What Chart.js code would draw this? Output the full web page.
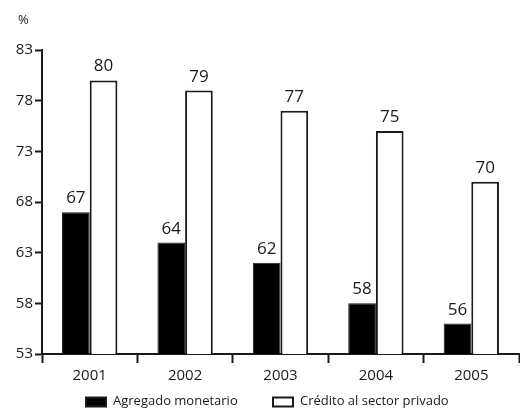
<!DOCTYPE html>
<html>
<head>
<meta charset="utf-8">
<script src="https://cdn.jsdelivr.net/npm/chart.js@4/dist/chart.umd.min.js"></script>
<style>
  html, body { margin: 0; padding: 0; background: #fff; }
  #wrap { width: 520px; height: 410px; position: relative; }
</style>
</head>
<body>
<div id="wrap"><canvas id="c" width="520" height="410"></canvas></div>
<script>
// Years on the category axis
const years = ['2001', '2002', '2003', '2004', '2005'];
// Series values (%)
const agregadoMonetario = [67, 64, 62, 58, 56];
const creditoPrivado = [80, 79, 77, 75, 70];
// Series names
const seriesNames = ['Agregado monetario', 'Crédito al sector privado'];
// Y axis range and step
const yMin = 53, yMax = 83, yStep = 5;
const unitLabel = '%';

const FONT = '"Open Sans", "DejaVu Sans", sans-serif';
const INK = '#1a1a1a';

// Numbers written above each bar
const valueLabels = {
  id: 'valueLabels',
  afterDatasetsDraw(chart) {
    const ctx = chart.ctx;
    ctx.save();
    ctx.font = '17px ' + FONT;
    ctx.fillStyle = INK;
    ctx.textAlign = 'center';
    ctx.textBaseline = 'alphabetic';
    chart.data.datasets.forEach((ds, di) => {
      chart.getDatasetMeta(di).data.forEach((bar, i) => {
        ctx.fillText(String(ds.data[i]), bar.x, bar.y - 9);
      });
    });
    ctx.restore();
  }
};

// Unit mark and legend along the bottom
const extras = {
  id: 'extras',
  afterDraw(chart) {
    const ctx = chart.ctx;
    ctx.save();
    ctx.fillStyle = INK;
    ctx.font = '13px ' + FONT;
    ctx.textAlign = 'left';
    ctx.textBaseline = 'middle';
    ctx.fillText(unitLabel, 18, 20);

    const y = 401;
    const items = [
      { x: 86, fill: '#000', text: chart.data.datasets[0].label },
      { x: 273, fill: '#fff', text: chart.data.datasets[1].label }
    ];
    items.forEach(it => {
      ctx.fillStyle = it.fill;
      ctx.fillRect(it.x, y - 3.5, 20, 9);
      ctx.strokeStyle = INK;
      ctx.lineWidth = 2;
      ctx.strokeRect(it.x, y - 3.5, 20, 9);
      ctx.fillStyle = INK;
      ctx.fillText(it.text, it.x + 27, y);
    });
    ctx.restore();
  }
};

new Chart(document.getElementById('c'), {
  type: 'bar',
  data: {
    labels: years,
    datasets: [
      {
        label: seriesNames[0],
        data: agregadoMonetario,
        backgroundColor: '#000',
        borderColor: INK,
        borderWidth: 1,
        categoryPercentage: 0.58,
        barPercentage: 1.0
      },
      {
        label: seriesNames[1],
        data: creditoPrivado,
        backgroundColor: '#fff',
        borderColor: INK,
        borderWidth: 2,
        borderSkipped: 'bottom',
        categoryPercentage: 0.58,
        barPercentage: 1.0
      }
    ]
  },
  options: {
    responsive: false,
    animation: false,
    devicePixelRatio: 1,
    layout: { padding: { top: 50, right: 1, bottom: 20, left: 0 } },
    plugins: {
      legend: { display: false },
      tooltip: { enabled: false }
    },
    scales: {
      x: {
        grid: {
          display: true,
          drawOnChartArea: false,
          drawTicks: true,
          tickLength: 9,
          tickWidth: 2,
          tickColor: INK,
          offset: true
        },
        border: { display: true, color: INK, width: 2 },
        ticks: { color: INK, font: { family: FONT, size: 15 }, padding: 4 },
        afterFit(scale) { scale.height = 36; }
      },
      y: {
        min: yMin,
        max: yMax,
        grid: {
          display: true,
          drawOnChartArea: false,
          drawTicks: true,
          tickLength: 7,
          tickWidth: 2,
          tickColor: INK
        },
        border: { display: true, color: INK, width: 2 },
        ticks: {
          stepSize: yStep,
          color: INK,
          font: { family: FONT, size: 15 },
          padding: 2
        },
        afterFit(scale) { scale.width = 42; }
      }
    }
  },
  plugins: [valueLabels, extras]
});
</script>
</body>
</html>
